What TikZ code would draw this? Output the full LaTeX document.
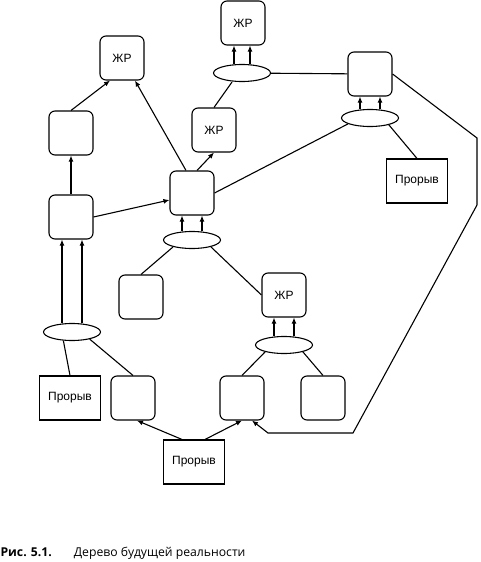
\documentclass[tikz,border=0pt]{standalone}
\usepackage{fontspec}
\setmainfont{Liberation Sans}
\newfontfamily\capfont{Open Sans}
\usetikzlibrary{shapes.geometric,arrows.meta}
\tikzset{every path/.style={black,line width=1.1pt},
  rbox/.style={draw,rounded corners=6pt,minimum width=44pt,minimum height=44pt,inner sep=0pt,font=\fontsize{12}{14}\selectfont},
  pbox/.style={draw,minimum width=61pt,minimum height=44pt,inner sep=0pt,font=\fontsize{12}{14}\selectfont},
  oval/.style={draw,ellipse,minimum width=57pt,minimum height=17pt,inner sep=0pt},
  arr/.style={-{Latex[length=6pt,width=5pt]}}}

\begin{document}
\begin{tikzpicture}[x=1pt,y=-1pt]
  \useasboundingbox (0,0) rectangle (480,562);
  \node[rbox] (zrA)   at (122, 58) {ЖР};
  \node[rbox] (zrTop) at (243, 23) {ЖР};
  \node[rbox] (zrMid) at (214,130) {ЖР};
  \node[rbox] (zrLow) at (284,295) {ЖР};
  \node[rbox] (boxA)  at ( 71,133) {};
  \node[rbox] (boxB)  at ( 71,217) {};
  \node[rbox] (boxC)  at (192,193) {};
  \node[rbox] (boxR)  at (370, 74) {};
  \node[rbox] (boxD)  at (141,297) {};
  \node[rbox] (boxE)  at (133,398) {};
  \node[rbox] (boxF)  at (242,398) {};
  \node[rbox] (boxG)  at (323,398) {};
  \node[oval] (ellTop) at (242, 73) {};
  \node[oval] (ellR)   at (370,118) {};
  \node[oval] (ellC)   at (192,240) {};
  \node[oval] (ellLR)  at (284,345) {};
  \node[oval] (ellL)   at ( 72,332) {};
  \node[pbox] (proR) at (417,181) {Прорыв};
  \node[pbox] (proL) at ( 70,398) {Прорыв};
  \node[pbox] (proB) at (194,462) {Прорыв};

  \draw[arr] (boxB) -- (boxA);
  \draw[arr] (boxA.north) -- ([xshift=-12pt]zrA.south);
  \draw[arr] ([xshift=-6pt]boxC.north) -- ([xshift=13pt]zrA.south);
  \draw[arr] ([xshift=5pt]boxC.north) -- (zrMid.south);
  \draw[arr] (boxB.east) -- ([yshift=-7pt]boxC.west);
  \draw (zrMid.north) -- ([xshift=-10pt]ellTop.south);
  \draw (ellTop) -- (boxR);
  \draw (ellR.195) -- (boxC.east);
  \draw (ellR.-20) -- (proR.north);
  \draw (ellC.200) -- (boxD.north);
  \draw (ellC.-20) -- (zrLow.west);
  \draw (ellLR.200) -- (boxF.north);
  \draw (ellLR.-20) -- (boxG.north);
  \draw (ellL.225) -- (proL.north);
  \draw (ellL.-22) -- (boxE.north);
  \draw[arr] ([xshift=-8pt]ellTop.north) -- ([xshift=-9pt]zrTop.south);
  \draw[arr] ([xshift=8pt]ellTop.north) -- ([xshift=7pt]zrTop.south);
  \draw[arr] ([xshift=-10pt]ellR.north) -- ([xshift=-10pt]boxR.south);
  \draw[arr] ([xshift=10pt]ellR.north) -- ([xshift=10pt]boxR.south);
  \draw[arr] ([xshift=-10pt]ellC.north) -- ([xshift=-10pt]boxC.south);
  \draw[arr] ([xshift=10pt]ellC.north) -- ([xshift=10pt]boxC.south);
  \draw[arr] ([xshift=-10pt]ellLR.north) -- ([xshift=-10pt]zrLow.south);
  \draw[arr] ([xshift=10pt]ellLR.north) -- ([xshift=10pt]zrLow.south);
  \draw[arr] ([xshift=-10pt]ellL.north) -- ([xshift=-9pt]boxB.south);
  \draw[arr] ([xshift=10pt]ellL.north) -- ([xshift=11pt]boxB.south);
  \draw[arr] ([xshift=-12pt]proB.north) -- ([xshift=4pt]boxE.south);
  \draw[arr] ([xshift=11pt]proB.north) -- (boxF.south);
  \draw[arr] (boxR.east) -- (477,138) -- (477,205) -- (353,433) -- (268,433) -- ([xshift=10pt]boxF.south);
  \node[anchor=base west,inner sep=0pt,font=\capfont\fontsize{12.2}{15}\selectfont] (cap) at (0,556)
    {\textbf{Рис. 5.1.}\hspace{22pt}Дерево будущей реальности};
\end{tikzpicture}
\end{document}
